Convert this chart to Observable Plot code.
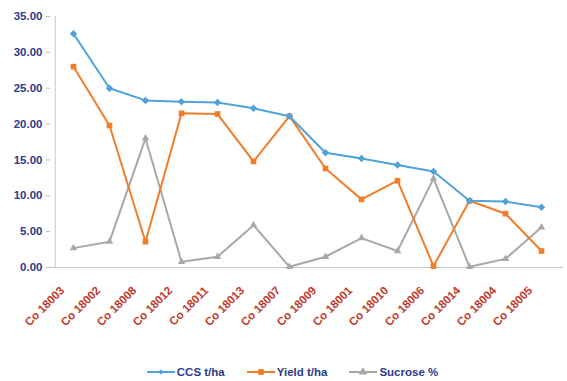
<!DOCTYPE html>
<html><head><meta charset="utf-8">
<script src="https://cdn.jsdelivr.net/npm/d3@7"></script>
<script src="https://cdn.jsdelivr.net/npm/@observablehq/plot@0.6"></script>
<style>
body{margin:0;background:#fff;font-family:"Liberation Sans",Arial,sans-serif;overflow:hidden;}
#legend{display:flex;justify-content:center;gap:22px;margin-left:18px;margin-top:12px;font:bold 11.5px "Liberation Sans",Arial,sans-serif;color:#2e3a8c;height:20px;align-items:center;}
.item{display:flex;align-items:center;gap:2px;}
</style></head>
<body>
<div id="chart"></div>
<div id="legend"></div>
<script>
const categories = ["Co 18003","Co 18002","Co 18008","Co 18012","Co 18011","Co 18013","Co 18007","Co 18009","Co 18001","Co 18010","Co 18006","Co 18014","Co 18004","Co 18005"];
const ccs = [32.6,25.0,23.3,23.1,23.0,22.2,21.1,16.0,15.2,14.3,13.4,9.3,9.2,8.4];
const yieldT = [28.0,19.8,3.6,21.5,21.4,14.8,21.1,13.8,9.5,12.1,0.2,9.3,7.5,2.3];
const sucrose = [2.7,3.6,18.0,0.8,1.5,5.9,0.1,1.5,4.1,2.3,12.4,0.1,1.2,5.6];
const seriesNames = ["CCS t/ha","Yield t/ha","Sucrose %"];
const yTicks = [0,5,10,15,20,25,30,35];

const colors = ["#4fa3d8","#f07d28","#a8a8a8"];
const symbols = ["diamond2","square","triangle"];
const radii = [2.4,3.2,2.8];
const allSeries = [ccs, yieldT, sucrose];

const marks = [];
[2,1,0].forEach(i => {
  const data = categories.map((c,k)=>({cat:c, v:allSeries[i][k]}));
  marks.push(Plot.line(data,{x:"cat",y:"v",stroke:colors[i],strokeWidth:2}));
  marks.push(Plot.dot(data,{x:"cat",y:"v",fill:colors[i],stroke:i===0?colors[i]:null,strokeWidth:1.5,symbol:symbols[i],r:radii[i]}));
});

const chart = Plot.plot({
  width:567, height:350,
  marginLeft:50, marginRight:4, marginTop:16, marginBottom:83,
  style:{fontFamily:"'Liberation Sans',Arial,sans-serif",background:"#fff"},
  x:{type:"point",domain:categories,padding:0.5},
  y:{domain:[0,35]},
  marks:[
    Plot.axisY({ticks:yTicks,tickFormat:d=>d.toFixed(2),tickSize:4,tickPadding:4,stroke:"#bbb",fill:"#2e3a8c",fontSize:11.5,fontWeight:"bold",label:null}),
    Plot.axisX({tickSize:0,tickRotate:-45,tickPadding:21,dx:-11,fill:"#c0392b",fontSize:11.5,fontWeight:"bold",label:null}),
    Plot.ruleY([0],{stroke:"#c8c8c8"}),
    Plot.ruleX([0],{x:()=>categories[0],dx:-18.3,stroke:"#c8c8c8"}),
    ...marks
  ]
});
document.getElementById("chart").appendChild(chart);

const legend = document.getElementById("legend");
seriesNames.forEach((name,i)=>{
  const it = document.createElement("div"); it.className="item";
  const svg = d3.create("svg").attr("width",28).attr("height",10);
  svg.append("line").attr("x1",0).attr("x2",28).attr("y1",5).attr("y2",5).attr("stroke",colors[i]).attr("stroke-width",2);
  svg.append("path").attr("d",d3.symbol(i===0?d3.symbolDiamond2:i===1?d3.symbolSquare:d3.symbolTriangle,i===0?12:22)()).attr("transform","translate(14,5)").attr("fill",colors[i]).attr("stroke",colors[i]);
  it.appendChild(svg.node());
  const t = document.createElement("span"); t.textContent=name; it.appendChild(t);
  legend.appendChild(it);
});
</script>
</body></html>
